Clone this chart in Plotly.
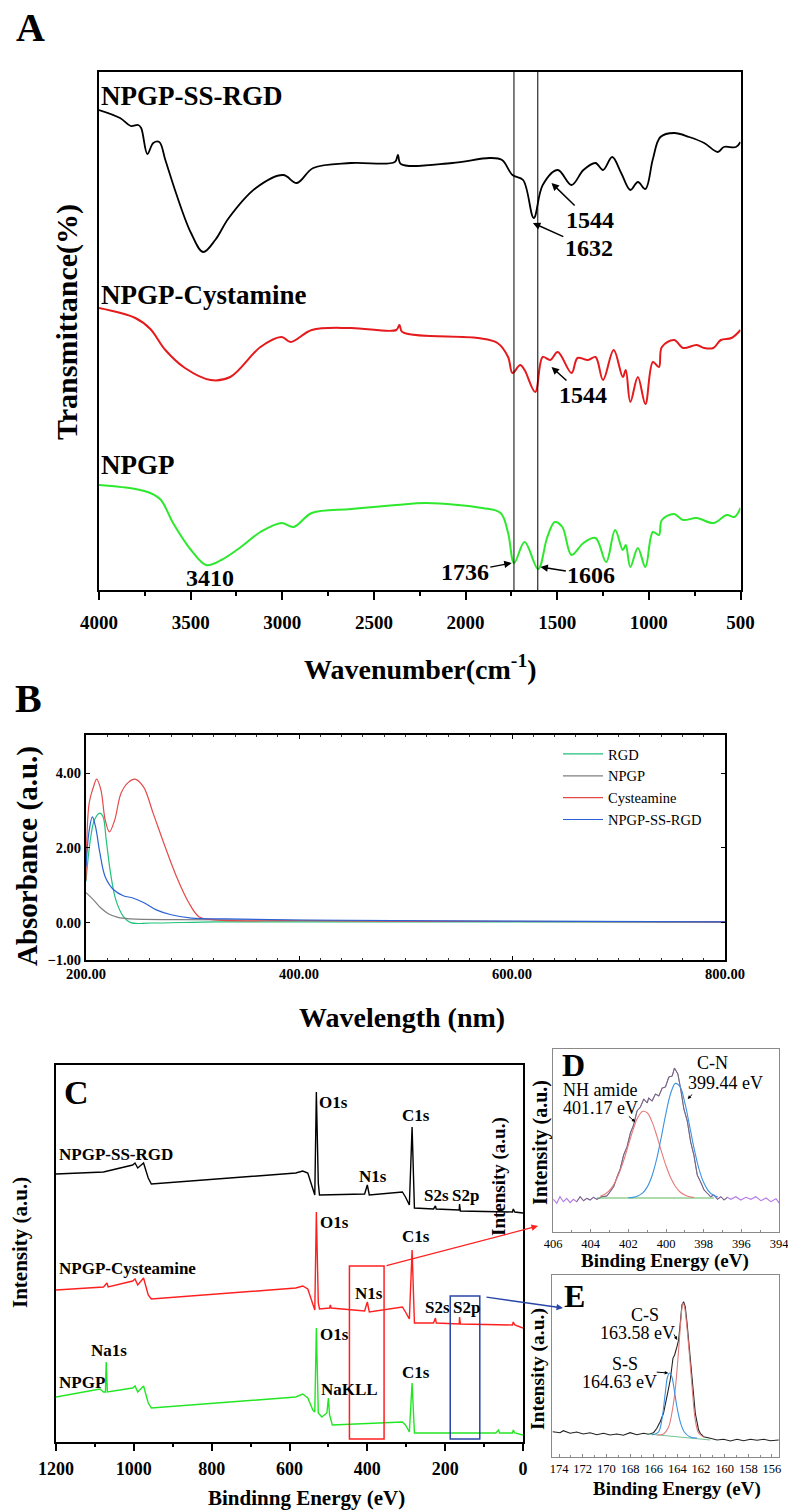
import plotly.graph_objects as go

W, H = 788, 1510
SERIF = "Liberation Serif, Times New Roman, serif"

# ---------------- A: FTIR spectra (wavenumber, transmittance a.u.) ----------------
ftir_ss_wn = [4000, 3885, 3827, 3786, 3770, 3736, 3704, 3671, 3638, 3580,
              3498, 3432, 3366, 3292, 3144, 2995, 2921, 2831, 2625, 2386,
              2369, 2353, 2073, 1867, 1801, 1744, 1686, 1628, 1579, 1497,
              1422, 1357, 1291, 1250, 1200, 1151, 1101, 1060, 1019, 978,
              937, 862, 780, 698, 624, 591, 525, 500]
ftir_ss_t = [478, 470, 462, 463, 460, 434, 445, 446, 428, 395,
             355, 336, 348, 370, 400, 413, 405, 420, 425, 426,
             433, 424, 425, 430, 428, 413, 408, 370, 403, 418,
             403, 418, 425, 418, 431, 415, 398, 406, 399, 429,
             451, 455, 451, 445, 436, 441, 441, 446]

ftir_cys_wn = [4000, 3802, 3720, 3638, 3531, 3391, 3284, 3119, 3004, 2954,
               2839, 2625, 2378, 2361, 2345, 1933, 1826, 1768, 1744, 1702,
               1678, 1620, 1579, 1538, 1497, 1422, 1389, 1332, 1291, 1250,
               1192, 1142, 1126, 1101, 1060, 1019, 978, 945, 929, 862,
               813, 739, 698, 648, 607, 549, 500]
ftir_cys_t = [280, 270, 259, 238, 220, 208, 211, 241, 251, 246,
              258, 260, 258, 263, 256, 250, 245, 231, 215, 223,
              218, 196, 231, 228, 236, 215, 230, 228, 231, 208,
              238, 211, 218, 186, 211, 184, 226, 221, 241, 248,
              240, 243, 240, 240, 248, 250, 258]

ftir_npgp_wn = [4000, 3802, 3720, 3662, 3596, 3498, 3415, 3333, 3226, 3119,
                3004, 2938, 2839, 2625, 2378, 2213, 1908, 1809, 1768, 1735,
                1678, 1604, 1554, 1513, 1472, 1422, 1357, 1291, 1233, 1184,
                1142, 1126, 1101, 1060, 1019, 978, 945, 929, 862, 813,
                739, 648, 574, 533, 500]
ftir_npgp_t = [103, 99, 95, 88, 65, 38, 23, 28, 41, 56,
               65, 61, 75, 79, 83, 85, 80, 75, 55, 25,
               46, 19, 51, 66, 61, 33, 45, 50, 26, 58,
               38, 43, 21, 40, 21, 56, 53, 68, 74, 68,
               70, 65, 73, 71, 80]

ftir_marks = [1736, 1606]

# ---------------- B: UV-vis (nm, absorbance) ----------------
uv_rgd_nm = [200, 204, 208, 213, 216, 219, 223, 228, 235, 242, 261, 322, 400, 600, 800]
uv_rgd_abs = [1.10, 2.20, 2.75, 2.93, 2.83, 2.21, 1.33, 0.61, 0.17, 0.00, -0.01, 0.02, 0.02, 0.02, 0.02]

uv_npgp_nm = [200, 202, 207, 214, 221, 230, 242, 285, 356, 497, 800]
uv_npgp_abs = [0.80, 0.75, 0.61, 0.39, 0.24, 0.14, 0.10, 0.08, 0.07, 0.04, 0.02]

uv_cys_nm = [200, 203, 207, 210, 214, 218, 222, 227, 233, 240, 246, 254, 263, 273,
             285, 296, 306, 318, 400, 600, 800]
uv_cys_abs = [1.15, 3.20, 3.63, 3.84, 3.55, 2.75, 2.43, 2.75, 3.47, 3.76, 3.84, 3.63, 2.93, 2.13,
              1.23, 0.56, 0.16, 0.08, 0.05, 0.03, 0.02]

uv_ss_nm = [200, 203, 206, 209, 213, 218, 226, 235, 244, 254, 266, 280, 299, 332, 403, 592, 800]
uv_ss_abs = [1.50, 2.47, 2.83, 2.56, 1.87, 1.23, 0.88, 0.72, 0.66, 0.54, 0.34, 0.21, 0.12, 0.10, 0.07, 0.04, 0.02]

uv_ticks = [-1, 0, 2, 4]

# ---------------- C: XPS survey (binding energy, intensity a.u.) ----------------
xps_ss_ev = [1200, 1078, 1003, 997, 990, 975, 963, 955, 584, 566, 553, 540, 535, 531, 526, 523,
             407, 400, 395, 310, 302, 292, 285, 279, 230, 225, 223, 164, 163, 161, 27, 25, 21, 0]
xps_ss_i = [268, 270, 277, 279, 274, 279, 264, 258, 269, 271, 269, 254, 247, 350, 259, 247,
            248, 257, 247, 250, 245, 237, 315, 234, 233, 236, 233, 232, 238, 231, 230, 233, 230, 229]

xps_cys_ev = [1200, 1078, 1069, 1066, 1003, 997, 990, 975, 963, 955, 584, 566, 553, 540, 535, 531,
              526, 523, 497, 495, 493, 407, 400, 395, 310, 302, 292, 285, 279, 230, 225, 223,
              164, 163, 161, 27, 25, 21, 0]
xps_cys_i = [152, 155, 159, 155, 161, 163, 157, 164, 147, 143, 154, 156, 153, 139, 132, 230,
             139, 133, 134, 137, 134, 131, 140, 130, 135, 130, 123, 192, 119, 119, 124, 119,
             118, 125, 118, 117, 120, 117, 114]

xps_npgp_ev = [1200, 1096, 1087, 1078, 1073, 1071, 1068, 1003, 997, 990, 975, 963, 955, 584, 566,
               553, 540, 535, 531, 526, 517, 504, 500, 497, 490, 310, 302, 292, 285, 279,
               70, 63, 60, 27, 25, 21, 0]
xps_npgp_i = [45, 52, 53, 50, 50, 80, 50, 54, 56, 50, 56, 39, 34, 45, 48,
              44, 32, 30, 114, 29, 25, 29, 44, 27, 17, 20, 17, 10, 59, 9,
              9, 12, 9, 9, 12, 9, 7]

# ---------------- D: N1s high resolution ----------------
n1s_ev = [405.98, 405.8, 405.63, 405.45, 405.27, 405.09, 404.92, 404.74, 404.56, 404.38,
          404.2, 404.03, 403.85, 403.67, 403.4, 403.14, 402.96, 402.78, 402.6, 402.43,
          402.25, 402.07, 401.89, 401.72, 401.54, 401.36, 401.18, 401.0, 400.92, 400.74,
          400.56, 400.38, 400.2, 400.03, 399.85, 399.67, 399.55, 399.44, 399.37, 399.23,
          399.05, 398.87, 398.69, 398.52, 398.34, 398.16, 397.98, 397.8, 397.63, 397.45,
          397.27, 397.09, 396.92, 396.74, 396.56, 396.29, 396.03, 395.76, 395.49, 395.23,
          394.96, 394.69, 394.43, 394.16, 393.98]
n1s_i = [35.7, 31.7, 38.3, 33.3, 36.7, 32.3, 35.7, 33.3, 38.3, 34.3,
         36.7, 35, 37.7, 35.7, 38.3, 39, 43.3, 48.3, 58, 66,
         80, 88, 102, 110, 124, 128, 136, 132, 137, 134,
         141, 139, 147, 148, 158, 159, 167, 163, 161, 147,
         126, 114, 93, 80, 60, 53, 45, 41.7, 38.3, 40,
         35.7, 38.3, 35, 37.7, 35.7, 38.3, 35, 37.7, 35.7, 38.3,
         34.3, 37, 33.3, 36.3, 31.7]

n1s_amide_ev = [403.5, 403.25, 403.0, 402.75, 402.5, 402.25, 402.0, 401.75, 401.5, 401.25, 401.0,
                400.75, 400.5, 400.25, 400.0, 399.75, 399.5, 399.25, 399.0, 398.75, 398.5]
n1s_amide_i = [38.7, 40.8, 44.7, 51.2, 61.1, 74.3, 89.8, 105.1, 117.4, 123.6, 122.2,
               113.6, 99.8, 84.1, 69.2, 57.2, 48.5, 43.0, 39.9, 38.2, 37.5]

n1s_cn_ev = [402.0, 401.75, 401.5, 401.25, 401.0, 400.75, 400.5, 400.25, 400.0, 399.75,
             399.5, 399.25, 399.0, 398.75, 398.5, 398.25, 398.0, 397.75, 397.5, 397.25]
n1s_cn_i = [37.2, 37.6, 38.9, 41.8, 47.9, 58.8, 75.6, 97.9, 121.9, 141.8,
            151.6, 148.1, 132.3, 109.4, 85.8, 66.1, 52.4, 44.2, 40.0, 38.1]

n1s_base_ev = [403.67, 397.45]
n1s_base_i = [37, 37]

# ---------------- E: S2p high resolution ----------------
s2p_ev = [174.54, 173.92, 173.64, 173.07, 172.51, 171.95, 171.38, 170.81, 170.25, 169.69,
          169.12, 168.56, 167.99, 167.43, 166.86, 166.44, 166.01, 165.73, 165.45, 165.17,
          164.88, 164.6, 164.37, 164.23, 164.03, 163.89, 163.75, 163.61, 163.47, 163.33,
          163.19, 163.05, 162.91, 162.76, 162.62, 162.48, 162.34, 162.2, 162.06, 161.78,
          161.21, 160.64, 160.08, 159.52, 158.95, 158.39, 157.82, 157.26, 156.69, 156.13, 155.42]
s2p_i = [25.3, 24.3, 26.3, 23.7, 25, 23, 24.3, 22.3, 23.7, 22,
         23, 21.7, 24.3, 22.3, 23.7, 22.7, 24.3, 28.7, 35.3, 43.7,
         60.3, 77, 98.7, 102, 110.3, 117, 133.7, 152, 155.3, 150.3,
         135.3, 117, 97, 77, 60.3, 43.7, 35.3, 27, 23.7, 20.3,
         18.7, 17, 17.7, 16, 17.7, 16.3, 17.7, 16.7, 17.7, 16.3, 17]

s2p_cs_ev = [165.73, 165.17, 164.74, 164.46, 164.18, 163.89, 163.7, 163.53, 163.39, 163.19,
             162.96, 162.71, 162.48, 162.2, 161.78]
s2p_cs_i = [22, 23, 30, 44, 67, 107, 137, 154, 150, 130, 100, 64, 37, 24, 20]

s2p_ss_ev = [166.15, 165.59, 165.31, 165.02, 164.83, 164.66, 164.46, 164.26, 164.03, 163.75,
             163.41, 162.91, 162.34]
s2p_ss_i = [22, 25, 37, 64, 80, 84, 80, 67, 50, 35, 25, 20, 19]

s2p_base_ev = [166.44, 161.21]
s2p_base_i = [23, 17]


def px(x):
    return x / W


def py(y):
    return 1 - y / H


def font(size, bold=True, color="black"):
    return dict(family=SERIF, size=size, color=color, weight="bold" if bold else "normal")


def label(x, y, s, size, bold=True, anchor="center", angle=0, color="black"):
    return dict(x=px(x), y=py(y), xref="paper", yref="paper", text=s, showarrow=False,
                xanchor=anchor, yanchor="middle", textangle=angle, font=font(size, bold, color))


def pointer(n, x, y, dx, dy, s, size, bold=True, width=1.5, head=2, hsize=1.0, color="black"):
    return dict(x=x, y=y, xref="x" + n, yref="y" + n, ax=dx, ay=dy, axref="pixel", ayref="pixel",
                text=s, showarrow=True, arrowhead=head, arrowsize=hsize, arrowwidth=width,
                arrowcolor=color, font=font(size, bold))


fig = go.Figure()


def add_line(x, y, color, width, n, shape="linear", name=None):
    fig.add_trace(go.Scatter(
        x=x, y=y, mode="lines", name=name, legendgroup=name,
        line=dict(color=color, width=width, shape=shape),
        xaxis="x" + n, yaxis="y" + n, showlegend=name is not None,
    ))


# A
add_line(ftir_ss_wn, ftir_ss_t, "black", 1.8, "", "spline")
add_line(ftir_cys_wn, ftir_cys_t, "#e41a1c", 2, "", "spline")
add_line(ftir_npgp_wn, ftir_npgp_t, "#2ee82e", 2, "", "spline")

# B (legend order as in the figure)
add_line(uv_rgd_nm, uv_rgd_abs, "#1fc27a", 1.2, "2", "spline", "RGD")
add_line(uv_npgp_nm, uv_npgp_abs, "#7f7f7f", 1.2, "2", "spline", "NPGP")
add_line(uv_cys_nm, uv_cys_abs, "#e34a4a", 1.2, "2", "spline", "Cysteamine")
add_line(uv_ss_nm, uv_ss_abs, "#2b63d6", 1.2, "2", "spline", "NPGP-SS-RGD")

# C
add_line(xps_ss_ev, xps_ss_i, "black", 1.4, "3")
add_line(xps_cys_ev, xps_cys_i, "#ff1f1f", 1.4, "3")
add_line(xps_npgp_ev, xps_npgp_i, "#22e622", 1.4, "3")

# D
add_line(n1s_ev, n1s_i, "#b57be6", 1.1, "4")
add_line([e for e in n1s_ev if 396.6 <= e <= 404.9],
         [v for e, v in zip(n1s_ev, n1s_i) if 396.6 <= e <= 404.9], "#6b6b6b", 1.0, "4")
add_line(n1s_base_ev, n1s_base_i, "#5cb85c", 1.0, "4")
add_line(n1s_amide_ev, n1s_amide_i, "#e77a7a", 1.1, "4", "spline")
add_line(n1s_cn_ev, n1s_cn_i, "#3c93e3", 1.1, "4", "spline")

# E
add_line(s2p_ev, s2p_i, "#222222", 1.1, "5")
add_line(s2p_base_ev, s2p_base_i, "#73c493", 1.0, "5")
add_line(s2p_cs_ev, s2p_cs_i, "#e07a7a", 1.1, "5", "spline")
add_line(s2p_ss_ev, s2p_ss_i, "#3c93e3", 1.1, "5", "spline")


def box_axis(dom, anchor, rng, color="black", lw=1.5, **kw):
    d = dict(domain=dom, anchor=anchor, range=rng, showgrid=False, zeroline=False,
             showline=True, mirror=True, linecolor=color, linewidth=lw,
             ticks="", showticklabels=False, automargin=False)
    d.update(kw)
    return d


layout = dict(
    width=W, height=H, autosize=False,
    margin=dict(l=0, r=0, t=0, b=0, pad=0, autoexpand=False),
    paper_bgcolor="white", plot_bgcolor="white",
    font=dict(family=SERIF, color="black"),
    showlegend=True,
    legend=dict(x=px(558), y=py(738), xanchor="left", yanchor="top",
                bgcolor="rgba(0,0,0,0)", font=font(14.5, False), tracegroupgap=0, itemwidth=40),
    xaxis=box_axis([px(99), px(740.5)], "y", [4000, 500],
                   ticks="outside", ticklen=8, tickwidth=1.5, tickcolor="black",
                   showticklabels=True, dtick=500, tick0=500, tickfont=font(19),
                   ticklabelstandoff=6,
                   minor=dict(dtick=250, ticks="outside", ticklen=4, tickwidth=1.5, tickcolor="black")),
    yaxis=box_axis([py(590), py(72)], "x", [-2, 516]),
    xaxis2=box_axis([px(86), px(725)], "y2", [200, 800], lw=2,
                    ticks="inside", ticklen=4, tickcolor="black", showticklabels=True,
                    tickvals=[200, 400, 600, 800], tickformat=".2f", tickfont=font(14.5),
                    mirror="ticks",
                    minor=dict(dtick=20, ticks="inside", ticklen=2, tickcolor="#333")),
    yaxis2=box_axis([py(960), py(735)], "x2", [-1, 5.02], lw=2,
                    ticks="inside", ticklen=4, tickcolor="black", showticklabels=True,
                    tickvals=uv_ticks, tickformat=".2f", tickfont=font(14.5), mirror="ticks"),
    xaxis3=box_axis([px(56), px(523)], "y3", [1200, 0],
                    ticks="outside", ticklen=7, tickwidth=1.5, tickcolor="black",
                    showticklabels=True, dtick=200, tickfont=font(18), ticklabelstandoff=3,
                    minor=dict(dtick=100, ticks="outside", ticklen=3, tickwidth=1.5, tickcolor="black")),
    yaxis3=box_axis([py(1442), py(1065)], "x3", [0, 377]),
    xaxis4=box_axis([px(553), px(779)], "y4", [406, 394], color="#8a8a8a", lw=1.2,
                    ticks="inside", ticklen=3, tickcolor="#8a8a8a", showticklabels=True,
                    dtick=2, tickfont=font(12.5, False), ticklabeloverflow="allow",
                    minor=dict(dtick=1, ticks="inside", ticklen=2, tickcolor="#8a8a8a")),
    yaxis4=box_axis([py(1232), py(1049)], "x4", [3, 186], color="#8a8a8a", lw=1.2),
    xaxis5=box_axis([px(552), px(779)], "y5", [174.6, 155.4], color="#8a8a8a", lw=1.2,
                    ticks="inside", ticklen=3, tickcolor="#8a8a8a", showticklabels=True,
                    dtick=2, tickfont=font(12.5, False), ticklabeloverflow="allow",
                    minor=dict(dtick=1, ticks="inside", ticklen=2, tickcolor="#8a8a8a")),
    yaxis5=box_axis([py(1457), py(1275)], "x5", [0, 182], color="#8a8a8a", lw=1.2),
)

shapes = [dict(type="line", xref="x", yref="y domain", x0=m, x1=m, y0=0, y1=1,
               line=dict(color="black", width=1)) for m in ftir_marks]
shapes += [
    dict(type="rect", xref="x3", yref="y3", x0=446, x1=357, y0=3, y1=176,
         line=dict(color="#ff2020", width=1.5)),
    dict(type="rect", xref="x3", yref="y3", x0=187, x1=111, y0=3, y1=146,
         line=dict(color="#2845a8", width=1.5)),
]
layout["shapes"] = shapes

ann = [
    # A
    label(30, 27, "A", 40),
    label(99, 96, "NPGP-SS-RGD", 27, anchor="left"),
    label(99, 295, "NPGP-Cystamine", 27, anchor="left"),
    label(99, 465, "NPGP", 27, anchor="left"),
    label(210, 578, "3410", 24),
    pointer("", 1531, 405, 38, 37, "1544", 24),
    pointer("", 1633, 365, 56, 25, "1632", 24),
    pointer("", 1531, 221, 31, 28, "1544", 24),
    pointer("", 1748, 25, -47, 9, "1736", 24),
    pointer("", 1592, 21, 51, 8, "1606", 24),
    label(420, 667, "Wavenumber(cm<sup>-1</sup>)", 28),
    label(67, 322, "Transmittance(%)", 30, angle=-90),
    # B
    label(28, 698, "B", 40),
    label(27, 856, "Absorbance (a.u.)", 29, angle=-90),
    label(402, 1018, "Wavelength (nm)", 28),
    # C
    label(76, 1092, "C", 34),
    label(333, 1102, "O1s", 17), label(416, 1115, "C1s", 17),
    label(57, 1154, "NPGP-SS-RGD", 17, anchor="left"),
    label(373, 1176, "N1s", 17), label(436, 1195, "S2s", 17), label(465, 1195, "S2p", 17),
    label(334, 1222, "O1s", 17), label(416, 1236, "C1s", 17),
    label(57, 1268, "NPGP-Cysteamine", 17, anchor="left"),
    label(369, 1293, "N1s", 17), label(437, 1307, "S2s", 17), label(466, 1307, "S2p", 17),
    label(334, 1334, "O1s", 17), label(109, 1350, "Na1s", 17),
    label(57, 1382, "NPGP", 17, anchor="left"),
    label(349, 1389, "NaKLL", 17), label(416, 1372, "C1s", 17),
    label(306, 1498, "Bindinng Energy (eV)", 21),
    label(20, 1243, "Intensity (a.u.)", 21, angle=-90),
    label(499, 1177, "Intensity (a.u.)", 19, angle=-90),
    dict(x=px(538), y=py(1226), xref="paper", yref="paper", ax=-153, ay=40, text="",
         showarrow=True, arrowhead=2, arrowsize=1, arrowwidth=1.3, arrowcolor="#ff2020"),
    dict(x=px(563), y=py(1308), xref="paper", yref="paper", ax=-78, ay=-11, text="",
         showarrow=True, arrowhead=2, arrowsize=1, arrowwidth=1.3, arrowcolor="#2845a8"),
    # D
    label(573, 1065, "D", 32),
    label(712, 1063, "C-N", 18, bold=False),
    label(725, 1083, "399.44 eV", 18, bold=False),
    label(600, 1090, "NH amide", 18, bold=False),
    label(600, 1108, "401.17 eV", 18, bold=False),
    pointer("4", 401.63, 113, -8, -7, "", 10, width=1, hsize=0.7),
    pointer("4", 398.85, 136, 6, -6, "", 10, width=1, hsize=0.7),
    label(665, 1261, "Binding Energy (eV)", 19),
    label(540, 1143, "Intensity (a.u.)", 20, angle=-90),
    # E
    label(574, 1296, "E", 32),
    label(645, 1315, "C-S", 18, bold=False),
    label(637, 1333, "163.58 eV", 18, bold=False),
    label(625, 1364, "S-S", 18, bold=False),
    label(619, 1382, "164.63 eV", 18, bold=False),
    pointer("5", 164.01, 117, -4, -7, "", 10, width=1, hsize=0.7),
    pointer("5", 164.77, 84, -13, -1, "", 10, width=1, hsize=0.7),
    label(677, 1489, "Binding Energy (eV)", 19),
    label(538, 1369, "Intensity (a.u.)", 19.5, angle=-90),
]
layout["annotations"] = ann

fig.update_layout(**layout)
fig.write_html("out.html", config={"displayModeBar": False, "responsive": False},
               post_script="document.body.style.margin='0';")
